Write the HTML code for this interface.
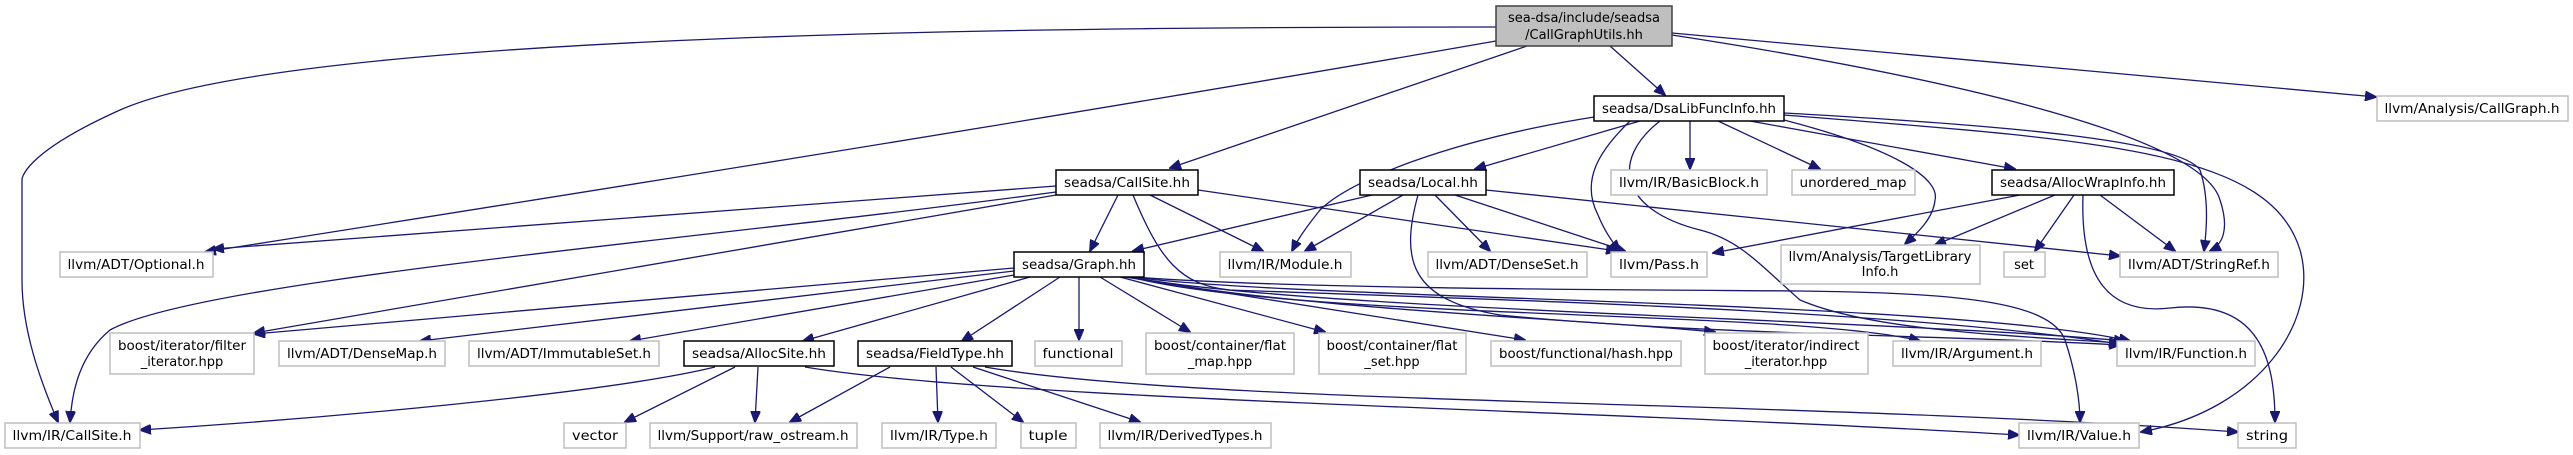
<!DOCTYPE html>
<html><head><meta charset="utf-8"><style>
html,body{margin:0;padding:0;background:#fff;}
svg{display:block;}
text{font-family:"DejaVu Sans","Liberation Sans",sans-serif;font-size:13px;fill:#000;}
.e{fill:none;stroke:#191970;stroke-width:1.3;}
.g{fill:#fff;stroke:#bfbfbf;stroke-width:1.5;}
.b{fill:#fff;stroke:#000;stroke-width:1.5;}
</style></head><body>
<svg width="2573" height="455" viewBox="0 0 2573 455" xmlns="http://www.w3.org/2000/svg">
<defs><marker id="a" markerWidth="12" markerHeight="10" refX="11" refY="5" orient="auto" markerUnits="userSpaceOnUse"><path d="M0,0 L12,5 L0,10 z" fill="#191970" stroke="#191970"/></marker></defs>
<g class="e" marker-end="url(#a)">
<!-- root -->
<path d="M1496,27 C1100,27 300,30 120,110 C20,155 22,180 22,180 L22,280 C22,330 40,380 58,422"/>
<path d="M1496,41 C1100,110 600,190 205,252"/>
<path d="M1527,46 L1170,168"/>
<path d="M1610,46 L1665,95"/>
<path d="M1672,33 L2376,97"/>
<path d="M1672,35 C1900,70 2200,130 2220,200 C2230,230 2222,245 2210,251"/>
<!-- DsaLib -->
<path d="M1594,117 C1450,140 1350,180 1320,210 C1300,235 1295,245 1292,251"/>
<path d="M1640,121 L1475,169"/>
<path d="M1630,121 C1600,150 1580,180 1598,215 C1605,232 1612,242 1620,251"/>
<path d="M1660,121 C1610,160 1620,210 1700,230 C1740,240 1760,265 1800,300 C1870,330 2000,335 2120,343"/>
<path d="M1690,121 L1690,169"/>
<path d="M1718,121 L1820,169"/>
<path d="M1750,121 L2015,169"/>
<path d="M1784,120 C1900,150 1940,180 1935,200 C1933,220 1915,235 1905,244"/>
<path d="M1784,113 C2000,125 2180,140 2200,170 C2210,200 2206,235 2204,251"/>
<path d="M1784,115 C2100,140 2270,150 2300,250 C2320,320 2260,410 2141,432"/>
<!-- Local.hh -->
<path d="M1372,195 L1133,251"/>
<path d="M1403,195 L1305,251"/>
<path d="M1435,195 L1490,251"/>
<path d="M1455,195 L1625,251"/>
<path d="M1486,190 L2120,256"/>
<path d="M1418,195 C1400,260 1410,300 1500,315 C1700,335 1950,335 2120,345"/>
<!-- CallSite.hh -->
<path d="M1056,186 L213,249"/>
<path d="M1056,195 L254,333"/>
<path d="M1056,192 C700,240 200,280 110,330 C80,355 72,390 70,422"/>
<path d="M1118,195 L1090,251"/>
<path d="M1150,195 L1263,251"/>
<path d="M1198,190 L1617,251"/>
<path d="M1133,195 C1160,260 1180,285 1230,290 C1500,300 1900,310 2120,344"/>
<!-- Graph.hh -->
<path d="M1014,268 L254,334"/>
<path d="M1014,271 L420,341"/>
<path d="M1014,275 L630,341"/>
<path d="M1030,277 L803,341"/>
<path d="M1060,277 L962,341"/>
<path d="M1079,277 L1079,340"/>
<path d="M1100,277 L1190,332"/>
<path d="M1120,277 L1325,332"/>
<path d="M1125,277 L1525,340"/>
<path d="M1128,277 C1300,310 1600,320 1715,332"/>
<path d="M1130,277 C1300,320 1800,310 1920,341"/>
<path d="M1130,277 C1300,310 1900,320 2125,341"/>
<path d="M1132,277 C1300,300 1950,300 2130,341"/>
<path d="M1134,277 C1300,290 1700,290 1800,291 C1950,293 2050,300 2065,340 C2075,370 2080,400 2080,422"/>
<!-- AllocSite -->
<path d="M715,367 C600,395 300,420 140,430"/>
<path d="M735,367 L625,422"/>
<path d="M758,367 L755,422"/>
<path d="M805,367 C1000,400 1600,410 2019,435"/>
<!-- FieldType -->
<path d="M890,367 L790,422"/>
<path d="M936,367 L938,422"/>
<path d="M951,367 L1023,422"/>
<path d="M973,367 L1140,422"/>
<path d="M985,367 C1200,405 1800,400 2238,432"/>
<!-- AllocWrapInfo -->
<path d="M2020,195 L1713,253"/>
<path d="M2055,195 L1935,245"/>
<path d="M2074,195 L2035,251"/>
<path d="M2100,195 L2175,251"/>
<path d="M2083,195 C2080,280 2110,315 2170,308 C2260,298 2275,360 2275,422"/>
</g>
<!-- nodes -->
<rect x="1496" y="6" width="176" height="40" fill="#bfbfbf" stroke="#404040" stroke-width="1.5"/>
<text x="1584" y="22" text-anchor="middle">sea-dsa/include/seadsa</text>
<text x="1584" y="39" text-anchor="middle">/CallGraphUtils.hh</text>

<rect class="b" x="1594" y="96" width="190" height="25"/><text x="1689" y="113" text-anchor="middle" textLength="174" lengthAdjust="spacingAndGlyphs">seadsa/DsaLibFuncInfo.hh</text>
<rect class="g" x="2377" y="96" width="191" height="25"/><text x="2472" y="113" text-anchor="middle" textLength="175" lengthAdjust="spacingAndGlyphs">llvm/Analysis/CallGraph.h</text>
<rect class="b" x="1056" y="170" width="142" height="25"/><text x="1127" y="187" text-anchor="middle" textLength="126" lengthAdjust="spacingAndGlyphs">seadsa/CallSite.hh</text>
<rect class="b" x="1360" y="170" width="126" height="25"/><text x="1423" y="187" text-anchor="middle" textLength="110" lengthAdjust="spacingAndGlyphs">seadsa/Local.hh</text>
<rect class="g" x="1611" y="170" width="156" height="25"/><text x="1689" y="187" text-anchor="middle" textLength="140" lengthAdjust="spacingAndGlyphs">llvm/IR/BasicBlock.h</text>
<rect class="g" x="1792" y="170" width="123" height="25"/><text x="1853" y="187" text-anchor="middle" textLength="107" lengthAdjust="spacingAndGlyphs">unordered_map</text>
<rect class="b" x="1992" y="170" width="182" height="25"/><text x="2083" y="187" text-anchor="middle" textLength="166" lengthAdjust="spacingAndGlyphs">seadsa/AllocWrapInfo.hh</text>

<rect class="g" x="60" y="252" width="153" height="25"/><text x="136" y="269" text-anchor="middle" textLength="137" lengthAdjust="spacingAndGlyphs">llvm/ADT/Optional.h</text>
<rect class="b" x="1014" y="252" width="130" height="25"/><text x="1079" y="269" text-anchor="middle" textLength="114" lengthAdjust="spacingAndGlyphs">seadsa/Graph.hh</text>
<rect class="g" x="1220" y="252" width="131" height="25"/><text x="1285" y="269" text-anchor="middle" textLength="115" lengthAdjust="spacingAndGlyphs">llvm/IR/Module.h</text>
<rect class="g" x="1428" y="252" width="159" height="25"/><text x="1507" y="269" text-anchor="middle" textLength="143" lengthAdjust="spacingAndGlyphs">llvm/ADT/DenseSet.h</text>
<rect class="g" x="1611" y="252" width="96" height="25"/><text x="1659" y="269" text-anchor="middle" textLength="80" lengthAdjust="spacingAndGlyphs">llvm/Pass.h</text>
<rect class="g" x="1781" y="245" width="199" height="39"/><text x="1880" y="261" text-anchor="middle" textLength="183" lengthAdjust="spacingAndGlyphs">llvm/Analysis/TargetLibrary</text><text x="1880" y="276" text-anchor="middle">Info.h</text>
<rect class="g" x="2004" y="252" width="41" height="25"/><text x="2024" y="269" text-anchor="middle">set</text>
<rect class="g" x="2120" y="252" width="158" height="25"/><text x="2199" y="269" text-anchor="middle" textLength="142" lengthAdjust="spacingAndGlyphs">llvm/ADT/StringRef.h</text>

<rect class="g" x="110" y="333" width="144" height="41"/><text x="182" y="350" text-anchor="middle" textLength="128" lengthAdjust="spacingAndGlyphs">boost/iterator/filter</text><text x="182" y="366" text-anchor="middle">_iterator.hpp</text>
<rect class="g" x="279" y="341" width="166" height="25"/><text x="362" y="358" text-anchor="middle" textLength="150" lengthAdjust="spacingAndGlyphs">llvm/ADT/DenseMap.h</text>
<rect class="g" x="469" y="341" width="190" height="25"/><text x="564" y="358" text-anchor="middle" textLength="174" lengthAdjust="spacingAndGlyphs">llvm/ADT/ImmutableSet.h</text>
<rect class="b" x="684" y="341" width="150" height="25"/><text x="759" y="358" text-anchor="middle" textLength="134" lengthAdjust="spacingAndGlyphs">seadsa/AllocSite.hh</text>
<rect class="b" x="858" y="341" width="154" height="25"/><text x="935" y="358" text-anchor="middle" textLength="138" lengthAdjust="spacingAndGlyphs">seadsa/FieldType.hh</text>
<rect class="g" x="1035" y="341" width="87" height="25"/><text x="1078" y="358" text-anchor="middle" textLength="71" lengthAdjust="spacingAndGlyphs">functional</text>
<rect class="g" x="1146" y="333" width="148" height="41"/><text x="1220" y="350" text-anchor="middle" textLength="132" lengthAdjust="spacingAndGlyphs">boost/container/flat</text><text x="1220" y="366" text-anchor="middle">_map.hpp</text>
<rect class="g" x="1319" y="333" width="147" height="41"/><text x="1392" y="350" text-anchor="middle" textLength="131" lengthAdjust="spacingAndGlyphs">boost/container/flat</text><text x="1392" y="366" text-anchor="middle">_set.hpp</text>
<rect class="g" x="1491" y="341" width="190" height="25"/><text x="1586" y="358" text-anchor="middle" textLength="174" lengthAdjust="spacingAndGlyphs">boost/functional/hash.hpp</text>
<rect class="g" x="1705" y="333" width="163" height="41"/><text x="1786" y="350" text-anchor="middle" textLength="147" lengthAdjust="spacingAndGlyphs">boost/iterator/indirect</text><text x="1786" y="366" text-anchor="middle">_iterator.hpp</text>
<rect class="g" x="1893" y="341" width="148" height="25"/><text x="1967" y="358" text-anchor="middle" textLength="132" lengthAdjust="spacingAndGlyphs">llvm/IR/Argument.h</text>
<rect class="g" x="2117" y="341" width="138" height="25"/><text x="2186" y="358" text-anchor="middle" textLength="122" lengthAdjust="spacingAndGlyphs">llvm/IR/Function.h</text>

<rect class="g" x="5" y="423" width="135" height="25"/><text x="72" y="440" text-anchor="middle" textLength="119" lengthAdjust="spacingAndGlyphs">llvm/IR/CallSite.h</text>
<rect class="g" x="564" y="423" width="62" height="25"/><text x="595" y="440" text-anchor="middle" textLength="46" lengthAdjust="spacingAndGlyphs">vector</text>
<rect class="g" x="650" y="423" width="207" height="25"/><text x="753" y="440" text-anchor="middle" textLength="191" lengthAdjust="spacingAndGlyphs">llvm/Support/raw_ostream.h</text>
<rect class="g" x="882" y="423" width="114" height="25"/><text x="939" y="440" text-anchor="middle" textLength="98" lengthAdjust="spacingAndGlyphs">llvm/IR/Type.h</text>
<rect class="g" x="1021" y="423" width="55" height="25"/><text x="1048" y="440" text-anchor="middle" textLength="39" lengthAdjust="spacingAndGlyphs">tuple</text>
<rect class="g" x="1100" y="423" width="171" height="25"/><text x="1185" y="440" text-anchor="middle" textLength="155" lengthAdjust="spacingAndGlyphs">llvm/IR/DerivedTypes.h</text>
<rect class="g" x="2019" y="423" width="120" height="25"/><text x="2079" y="440" text-anchor="middle" textLength="104" lengthAdjust="spacingAndGlyphs">llvm/IR/Value.h</text>
<rect class="g" x="2238" y="423" width="58" height="25"/><text x="2267" y="440" text-anchor="middle" textLength="42" lengthAdjust="spacingAndGlyphs">string</text>
</svg>
</body></html>
